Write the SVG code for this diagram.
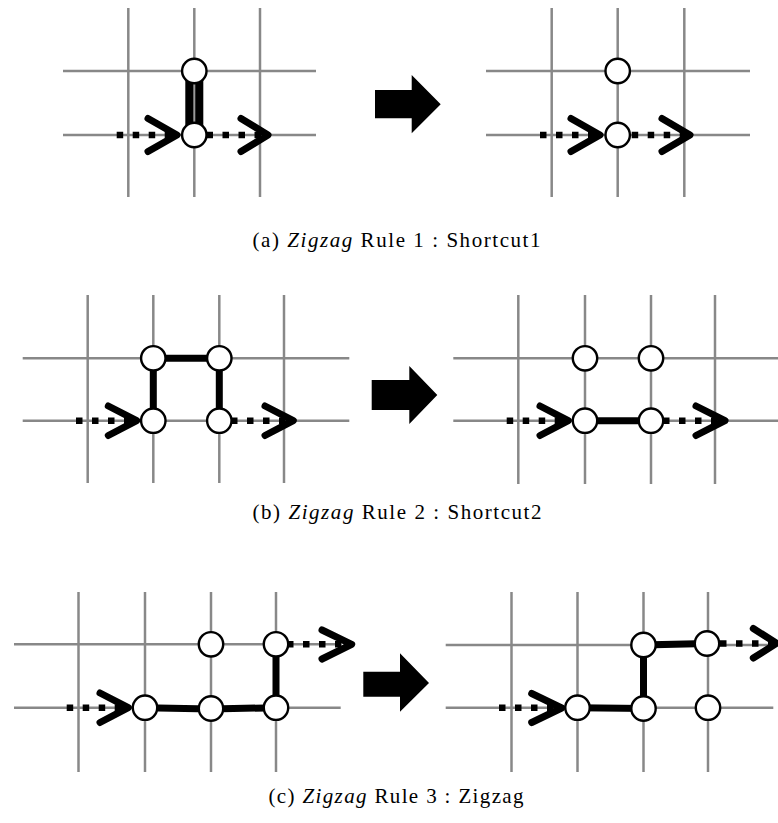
<svg xmlns="http://www.w3.org/2000/svg" width="778" height="823" viewBox="0 0 778 823">
  <style>
    .grid { stroke: #888; stroke-width: 2.5; fill: none; }
    .node { fill: #fff; stroke: #000; stroke-width: 2.4; }
    .path { stroke: #000; stroke-width: 7; fill: none; stroke-linejoin: miter; }
    .dash { stroke: #000; stroke-width: 6.5; stroke-dasharray: 6.5 9.5; fill: none; }
    .chev { stroke: #000; stroke-width: 7; fill: none; stroke-linecap: round; stroke-linejoin: round; }
    .big { fill: #000; }
    .cap { font-family: "Liberation Serif", "Times New Roman", serif; font-size: 21px; fill: #000; }
    .it { font-style: italic; }
  </style>

  <!-- (a) Shortcut1: before -->
  <g id="a-before">
    <g class="grid">
      <line x1="128.3" y1="8" x2="128.3" y2="197"/>
      <line x1="194.3" y1="8" x2="194.3" y2="197"/>
      <line x1="260" y1="8" x2="260" y2="197"/>
      <line x1="63" y1="71" x2="316" y2="71"/>
      <line x1="63" y1="135" x2="316" y2="135"/>
    </g>
    <g id="a-before-connectors">
      <line class="dash" x1="116.7" y1="135" x2="178" y2="135"/>
      <polyline class="chev" points="148,118.5 177,135 148,151.5"/>
      <line class="dash" x1="206.5" y1="135" x2="265" y2="135"/>
      <polyline class="chev" points="241,118.5 268,135 241,151.5"/>
      <rect x="185.3" y="71" width="18" height="64" fill="#000"/>
      <line x1="194.3" y1="71" x2="194.3" y2="135" stroke="#999" stroke-width="2"/>
    </g>
    <g id="a-before-nodes">
      <circle class="node" cx="194.3" cy="71" r="12.2"/>
      <circle class="node" cx="194.3" cy="135" r="12.2"/>
    </g>
  </g>

  <g id="a-transform">
    <polygon class="big" points="375,90 411.7,90 411.7,75 440.7,104.3 411.7,133.3 411.7,118.3 375,118.3"/>
  </g>

  <!-- (a) Shortcut1: after -->
  <g id="a-after">
    <g class="grid">
      <line x1="551.7" y1="8" x2="551.7" y2="197"/>
      <line x1="617.7" y1="8" x2="617.7" y2="197"/>
      <line x1="684.3" y1="8" x2="684.3" y2="197"/>
      <line x1="486" y1="71" x2="750" y2="71"/>
      <line x1="486" y1="135" x2="750" y2="135"/>
    </g>
    <g id="a-after-connectors">
      <line class="dash" x1="540" y1="135" x2="600" y2="135"/>
      <polyline class="chev" points="571,118.5 600,135 571,151.5"/>
      <line class="dash" x1="631.7" y1="135" x2="688" y2="135"/>
      <polyline class="chev" points="662,118.5 690,135 662,151.5"/>
    </g>
    <g id="a-after-nodes">
      <circle class="node" cx="617.7" cy="71" r="12.2"/>
      <circle class="node" cx="617.7" cy="135" r="12.2"/>
    </g>
  </g>

  <text class="cap" x="396.5" y="246.5" text-anchor="middle" textLength="288" lengthAdjust="spacing">(a)  <tspan class="it">Zigzag</tspan> Rule 1 : Shortcut1</text>

  <!-- (b) Shortcut2: before -->
  <g id="b-before">
    <g class="grid">
      <line x1="87.7" y1="295" x2="87.7" y2="483"/>
      <line x1="153.3" y1="295" x2="153.3" y2="483"/>
      <line x1="219.3" y1="295" x2="219.3" y2="483"/>
      <line x1="284" y1="295" x2="284" y2="483"/>
      <line x1="22.7" y1="358.3" x2="349.3" y2="358.3"/>
      <line x1="22.7" y1="420.7" x2="349.3" y2="420.7"/>
    </g>
    <g id="b-before-connectors">
      <line class="dash" x1="76" y1="420.7" x2="135" y2="420.7"/>
      <polyline class="chev" points="108.3,406 136.7,420.7 108.3,435.5"/>
      <line class="dash" x1="231" y1="420.7" x2="290" y2="420.7"/>
      <polyline class="chev" points="265,406 293.3,420.7 265,435.5"/>
      <path class="path" d="M153.3,420.7 V358.3 H219.3 V420.7"/>
    </g>
    <g id="b-before-nodes">
      <circle class="node" cx="153.3" cy="358.3" r="12.2"/>
      <circle class="node" cx="219.3" cy="358.3" r="12.2"/>
      <circle class="node" cx="153.3" cy="420.7" r="12.2"/>
      <circle class="node" cx="219.3" cy="420.7" r="12.2"/>
    </g>
  </g>

  <g id="b-transform">
    <polygon class="big" points="371.7,380 409.3,380 409.3,366 437.3,395 409.3,424 409.3,410 371.7,410"/>
  </g>

  <!-- (b) Shortcut2: after -->
  <g id="b-after">
    <g class="grid">
      <line x1="518.3" y1="295" x2="518.3" y2="484"/>
      <line x1="585" y1="295" x2="585" y2="484"/>
      <line x1="651" y1="295" x2="651" y2="484"/>
      <line x1="715" y1="295" x2="715" y2="484"/>
      <line x1="453.3" y1="358.3" x2="778" y2="358.3"/>
      <line x1="453.3" y1="420.7" x2="778" y2="420.7"/>
    </g>
    <g id="b-after-connectors">
      <line class="dash" x1="506.7" y1="420.7" x2="566" y2="420.7"/>
      <polyline class="chev" points="540,406 568.3,420.7 540,435.5"/>
      <line class="dash" x1="663" y1="420.7" x2="722" y2="420.7"/>
      <polyline class="chev" points="696,406 725,420.7 696,435.5"/>
      <path class="path" d="M585,420.7 H651"/>
    </g>
    <g id="b-after-nodes">
      <circle class="node" cx="585" cy="358.3" r="12.2"/>
      <circle class="node" cx="651" cy="358.3" r="12.2"/>
      <circle class="node" cx="585" cy="420.7" r="12.2"/>
      <circle class="node" cx="651" cy="420.7" r="12.2"/>
    </g>
  </g>

  <text class="cap" x="397" y="519" text-anchor="middle" textLength="289" lengthAdjust="spacing">(b)  <tspan class="it">Zigzag</tspan> Rule 2 : Shortcut2</text>

  <!-- (c) Zigzag: before -->
  <g id="c-before">
    <g class="grid">
      <line x1="78.5" y1="592" x2="78.5" y2="772"/>
      <line x1="145" y1="592" x2="145" y2="772"/>
      <line x1="211" y1="592" x2="211" y2="772"/>
      <line x1="276" y1="592" x2="276" y2="772"/>
      <line x1="14" y1="644.3" x2="340.7" y2="644.3"/>
      <line x1="14" y1="707.7" x2="340.7" y2="707.7"/>
    </g>
    <g id="c-before-connectors">
      <line class="dash" x1="66.7" y1="707.7" x2="126" y2="707.7"/>
      <polyline class="chev" points="100,693 128.3,707.7 100,722.5"/>
      <line class="dash" x1="287" y1="644.3" x2="348" y2="644.3"/>
      <polyline class="chev" points="322,630 351.7,644.3 322,659"/>
      <path class="path" d="M145,707.7 L211,709 L276,707.7 V644.3"/>
    </g>
    <g id="c-before-nodes">
      <circle class="node" cx="211" cy="644.3" r="12.2"/>
      <circle class="node" cx="276" cy="644.3" r="12.2"/>
      <circle class="node" cx="145" cy="707.7" r="12.2"/>
      <circle class="node" cx="211" cy="708.5" r="12.2"/>
      <circle class="node" cx="276" cy="707.7" r="12.2"/>
    </g>
  </g>

  <g id="c-transform">
    <polygon class="big" points="363.3,671.7 400,671.7 400,653.3 429,683 400,711.7 400,696.7 363.3,696.7"/>
  </g>

  <!-- (c) Zigzag: after -->
  <g id="c-after">
    <g class="grid">
      <line x1="511.5" y1="592" x2="511.5" y2="772"/>
      <line x1="577.5" y1="592" x2="577.5" y2="772"/>
      <line x1="643.5" y1="592" x2="643.5" y2="772"/>
      <line x1="708" y1="592" x2="708" y2="772"/>
      <line x1="445.7" y1="645" x2="773.3" y2="645"/>
      <line x1="445.7" y1="707.7" x2="773.3" y2="707.7"/>
    </g>
    <g id="c-after-connectors">
      <line class="dash" x1="499" y1="707.7" x2="558" y2="707.7"/>
      <polyline class="chev" points="531.7,693.5 561.7,708 531.7,722.5"/>
      <line class="dash" x1="720" y1="643.5" x2="774" y2="643.5"/>
      <polyline class="chev" points="753.3,628.5 776.7,643.3 753.3,658"/>
      <path class="path" d="M577.5,707.7 L643.5,708.5 V645 L707,643.5"/>
    </g>
    <g id="c-after-nodes">
      <circle class="node" cx="643.5" cy="645" r="12.2"/>
      <circle class="node" cx="707" cy="643.5" r="12.2"/>
      <circle class="node" cx="577.5" cy="707.7" r="12.2"/>
      <circle class="node" cx="643.5" cy="708.5" r="12.2"/>
      <circle class="node" cx="708" cy="707.7" r="12.2"/>
    </g>
  </g>

  <text class="cap" x="396" y="802.5" text-anchor="middle" textLength="255" lengthAdjust="spacing">(c)  <tspan class="it">Zigzag</tspan> Rule 3 : Zigzag</text>
</svg>
